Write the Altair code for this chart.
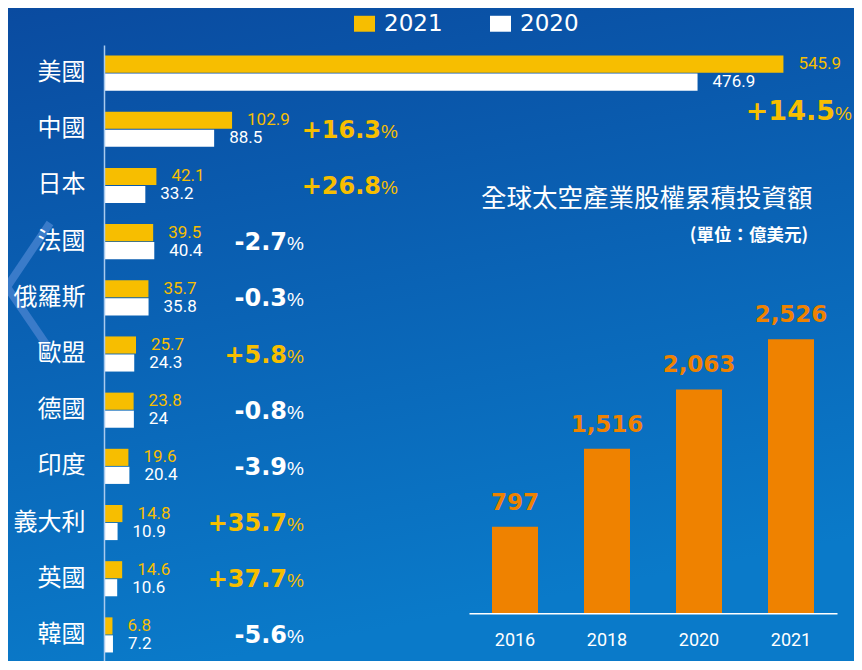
import altair as alt
import pandas as pd

# ---------------- data ----------------
countries = ["美國", "中國", "日本", "法國", "俄羅斯", "歐盟", "德國", "印度", "義大利", "英國", "韓國"]
val_2021 = [545.9, 102.9, 42.1, 39.5, 35.7, 25.7, 23.8, 19.6, 14.8, 14.6, 6.8]
val_2020 = [476.9, 88.5, 33.2, 40.4, 35.8, 24.3, 24, 20.4, 10.9, 10.6, 7.2]
pct_change = [14.5, 16.3, 26.8, -2.7, -0.3, 5.8, -0.8, -3.9, 35.7, 37.7, -5.6]
series = ["2021", "2020"]

inset_years = ["2016", "2018", "2020", "2021"]
inset_values = [797, 1516, 2063, 2526]

title_text = "全球太空產業股權累積投資額"
unit_text = "(單位：億美元)"

# ---------------- styles ----------------
YELLOW = "#F7BE00"
WHITE = "#FFFFFF"
ORANGE = "#EF8200"
PAD_L, PAD_T = 96, 37
W, H = 750, 616          # total chart 846 x 653 fits the page body
PX_PER_UNIT = 1.2446

rows = []
for c, a, b in zip(countries, val_2021, val_2020):
    rows.append({"country": c, "year": "2021", "value": a, "label": f"{a:g}"})
    rows.append({"country": c, "year": "2020", "value": b, "label": f"{b:g}"})
long_df = pd.DataFrame(rows)

pct_df = pd.DataFrame({
    "country": countries,
    "pct": pct_change,
    "num": [f"{p:+.1f}" for p in pct_change],
})

inset_df = pd.DataFrame({
    "year": inset_years,
    "value": inset_values,
    "label": [f"{v:,}" for v in inset_values],
})

# ---------------- shared encodings ----------------
y_country = alt.Y(
    "country:N", sort=countries,
    scale=alt.Scale(domain=countries, range=[0, 618], paddingInner=0.375, paddingOuter=0.1875),
    axis=alt.Axis(title=None, ticks=False, grid=False, domainColor="#A9CAEE",
                  domainWidth=1.5, labelFont="Noto Sans CJK TC", labelFontSize=24,
                  labelColor="white", labelPadding=19, zindex=1),
)
y_off = alt.YOffset("year:N", sort=series,
                    scale=alt.Scale(domain=series, paddingInner=0.05, paddingOuter=0))
x_val = alt.X("value:Q", scale=alt.Scale(domain=[0, W / PX_PER_UNIT], nice=False, zero=True),
              axis=None)
color_year = alt.Color(
    "year:N", sort=series,
    scale=alt.Scale(domain=series, range=[YELLOW, WHITE]),
    legend=alt.Legend(
        title=None, orient="none", legendX=249, legendY=-33, direction="horizontal",
        symbolType="M-1,-0.76L1,-0.76L1,0.76L-1,0.76Z", symbolSize=441,
        symbolStrokeWidth=0, symbolOpacity=1, labelFont="DejaVu Sans", labelFontSize=23,
        labelColor="white", labelOffset=8, columnPadding=46, padding=0,
    ),
)

# ---------------- background ----------------
one = pd.DataFrame({"k": [0]})
bg = alt.Chart(one).mark_rect(
    color={"gradient": "linear", "x1": 0, "y1": 0, "x2": 0.25, "y2": 1,
           "stops": [{"offset": 0, "color": "#0A4BA0"}, {"offset": 1, "color": "#0A7AC9"}]}
).encode(x=alt.value(-PAD_L), x2=alt.value(W), y=alt.value(-PAD_T), y2=alt.value(H))

chev1 = alt.Chart(one).mark_rule(color="#3A7BC9", strokeWidth=8).encode(
    x=alt.value(-54), y=alt.value(178), x2=alt.value(-97), y2=alt.value(242))
chev2 = alt.Chart(one).mark_rule(color="#3A7BC9", strokeWidth=8).encode(
    x=alt.value(-97), y=alt.value(242), x2=alt.value(-54), y2=alt.value(305))

# ---------------- left: country bars ----------------
bars = alt.Chart(long_df).mark_bar().encode(
    x=x_val, y=y_country, yOffset=y_off, color=color_year)

val_labels = alt.Chart(long_df).mark_text(
    align="left", baseline="middle", dx=15, font="Roboto", fontSize=17
).encode(x=x_val, y=y_country, yOffset=y_off, color=color_year, text="label:N")

pct_color = alt.condition(alt.datum.pct > 0, alt.value(YELLOW), alt.value("white"))


def pct_layer(names, x_right, dy, size):
    base = alt.Chart(pct_df).transform_filter(
        alt.FieldOneOfPredicate(field="country", oneOf=names))
    num = base.mark_text(align="right", baseline="alphabetic", font="DejaVu Sans",
                         fontWeight="bold", fontSize=size, dy=dy).encode(
        x=alt.value(x_right - 17), y=y_country, text="num:N", color=pct_color)
    sign = base.mark_text(align="right", baseline="alphabetic", font="Liberation Sans",
                          fontSize=19, dy=dy).encode(
        x=alt.value(x_right), y=y_country, text=alt.value("%"), color=pct_color)
    return [num, sign]


pct_layers = (pct_layer(["美國"], 748, 47, 27)
              + pct_layer(["中國", "日本"], 294, 8.5, 24)
              + pct_layer(countries[3:], 200, 8.5, 24))

left = alt.layer(bars, val_labels, *pct_layers)

# ---------------- right: inset bars ----------------
BASE_Y = 568.3
x_year = alt.X(
    "year:N", sort=inset_years,
    scale=alt.Scale(domain=inset_years, range=[365, 733], paddingInner=0.5, paddingOuter=0.25),
    axis=alt.Axis(title=None, orient="bottom", offset=BASE_Y - H, domainColor="white",
                  domainWidth=1.5, ticks=False, grid=False, labelPadding=18, labelFont="Roboto",
                  labelFontSize=18, labelColor="white", labelAngle=0, zindex=1),
)
y_inv = alt.Y("value:Q", scale=alt.Scale(domain=[0, 2600], range=[BASE_Y, BASE_Y - 2600 * 0.1085],
                                         nice=False), axis=None)

inset_bars = alt.Chart(inset_df).mark_bar(color=ORANGE).encode(x=x_year, y=y_inv)
inset_labels = alt.Chart(inset_df).mark_text(
    baseline="alphabetic", dy=-17, font="DejaVu Sans", fontWeight="bold", fontSize=23,
    color=ORANGE).encode(x=x_year, y=y_inv, text="label:N")
right = alt.layer(inset_bars, inset_labels)

# ---------------- titles ----------------
title_mark = alt.Chart(one).mark_text(
    align="center", baseline="middle", font="Noto Sans CJK TC", fontSize=25.5, color="white"
).encode(x=alt.value(542.7), y=alt.value(153.7), text=alt.value(title_text))
unit_mark = alt.Chart(one).mark_text(
    align="right", baseline="middle", font="Noto Sans CJK TC", fontSize=17.5,
    fontWeight="bold", color="white"
).encode(x=alt.value(704), y=alt.value(190.5), text=alt.value(unit_text))

chart = alt.layer(bg, chev1, chev2, left, right, title_mark, unit_mark).resolve_scale(
    x="independent", y="independent", color="independent"
).properties(
    width=W, height=H,
    padding={"left": PAD_L, "top": PAD_T, "right": 0, "bottom": 0},
    autosize=alt.AutoSizeParams(type="none"),
    background="#0A5FB0",
).configure_view(stroke=None)

chart.save("out.html", embed_options={"renderer": "svg", "actions": False})
